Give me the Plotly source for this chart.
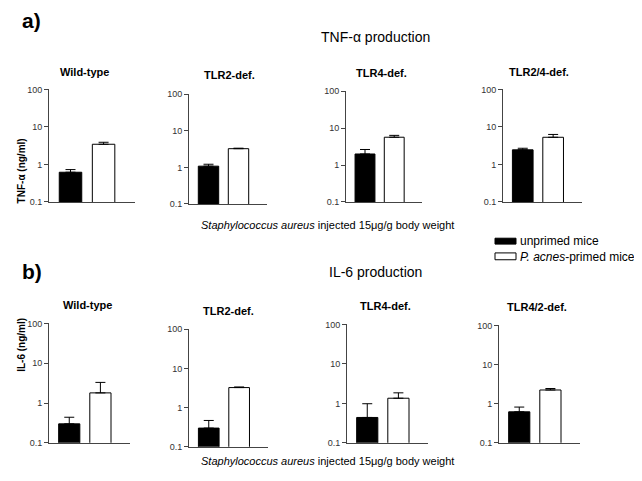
import plotly.graph_objects as go

W, H = 642, 481
OFF = 8  # page body margin: figure is drawn 8px right/down in the browser window
FONT = "Arial, Liberation Sans, sans-serif"

groups = ["unprimed mice", "<i>P. acnes</i>-primed mice"]
tnf_titles = ["Wild-type", "TLR2-def.", "TLR4-def.", "TLR2/4-def."]
il6_titles = ["Wild-type", "TLR2-def.", "TLR4-def.", "TLR4/2-def."]

tnf_unprimed = [0.62, 1.08, 2.0, 2.45]
tnf_unprimed_err = [0.11, 0.14, 0.65, 0.25]
tnf_primed = [3.45, 3.25, 5.7, 5.3]
tnf_primed_err = [0.45, 0.1, 0.7, 1.0]

il6_unprimed = [0.30, 0.30, 0.44, 0.62]
il6_unprimed_err = [0.14, 0.17, 0.54, 0.20]
il6_primed = [1.8, 3.25, 1.35, 2.24]
il6_primed_err = [1.5, 0.12, 0.5, 0.2]

tick_vals = [0.1, 1, 10, 100]
tick_text = ["0.1", "1", "10", "100"]

group_colors = ["black", "white"]


def px(x):
    return (x - OFF) / W


def py(y):
    return 1 - (y - OFF) / H


# window-pixel boxes (x0, x1, ytop, ybottom) for each panel
boxes = [
    (49, 135, 86, 201), (189, 267, 91, 203), (346, 422, 88, 201), (503, 582, 86, 201),
    (49, 130, 325, 447), (189, 268, 331, 451), (347, 428, 326, 447), (499, 580, 327, 447),
]
title_pos = [(84, 68), (229, 71), (382, 69), (539, 68),
             (87, 306), (228, 312), (385, 307), (537, 308)]

fig = go.Figure()

panels = []
for i in range(4):
    panels.append((tnf_titles[i], tnf_unprimed[i], tnf_unprimed_err[i], tnf_primed[i], tnf_primed_err[i]))
for i in range(4):
    panels.append((il6_titles[i], il6_unprimed[i], il6_unprimed_err[i], il6_primed[i], il6_primed_err[i]))

for k, (title, u, ue, p, pe) in enumerate(panels):
    n = k + 1
    xa = "x" if n == 1 else f"x{n}"
    ya = "y" if n == 1 else f"y{n}"
    fig.add_trace(go.Bar(
        x=[0], y=[u], width=0.68, name=groups[0], showlegend=False,
        marker=dict(color=group_colors[0], line=dict(color="black", width=1)),
        error_y=dict(type="data", symmetric=False, array=[ue], arrayminus=[0],
                     color="black", thickness=1, width=5),
        xaxis=xa, yaxis=ya))
    fig.add_trace(go.Bar(
        x=[1], y=[p], width=0.68, name=groups[1], showlegend=False,
        marker=dict(color=group_colors[1], line=dict(color="black", width=1)),
        error_y=dict(type="data", symmetric=False, array=[pe], arrayminus=[0],
                     color="black", thickness=1, width=5),
        xaxis=xa, yaxis=ya))

    x0, x1, yt, yb = boxes[k]
    xkey = "xaxis" if n == 1 else f"xaxis{n}"
    ykey = "yaxis" if n == 1 else f"yaxis{n}"
    fig.update_layout(**{
        xkey: dict(domain=[px(x0), px(x1)], range=[-0.65, 1.95], showticklabels=False,
                   ticks="", showgrid=False, zeroline=False, showline=True,
                   linecolor="#444", linewidth=1, anchor=ya, fixedrange=True),
        ykey: dict(domain=[py(yb), py(yt)], type="log", range=[-1, 2],
                   tickvals=tick_vals, ticktext=tick_text, ticks="outside", ticklen=4,
                   tickcolor="#444", tickwidth=1, showgrid=False, zeroline=False,
                   showline=True, linecolor="#444", linewidth=1, anchor=xa,
                   tickfont=dict(size=9, color="#333", family=FONT)),
    })
    tx, ty = title_pos[k]
    fig.add_annotation(text=f"<b>{title}</b>", xref="paper", yref="paper",
                       x=px(tx), y=py(ty), showarrow=False,
                       font=dict(size=11, color="black", family=FONT), xanchor="center", yanchor="middle")

texts = [
    ("<b>a)</b>", 32, 16, 21),
    ("<b>b)</b>", 32, 272, 21),
    ("TNF-α production", 375, 33, 14),
    ("IL-6 production", 375, 273, 14),
    ("<i>Staphylococcus aureus</i> injected 15μg/g body weight", 327, 225, 11),
    ("<i>Staphylococcus aureus</i> injected 15μg/g body weight", 327, 466, 11),
]
for t, tx, ty, sz in texts:
    fig.add_annotation(text=t, xref="paper", yref="paper", x=px(tx), y=py(ty),
                       showarrow=False, xanchor="center", yanchor="middle",
                       font=dict(size=sz, color="black", family=FONT))

fig.add_annotation(text="<b>TNF-α (ng/ml)</b>", xref="paper", yref="paper", x=px(14), y=py(134),
                   showarrow=False, textangle=-90, font=dict(size=10, color="black", family=FONT))
fig.add_annotation(text="<b>IL-6 (ng/ml)</b>", xref="paper", yref="paper", x=px(14), y=py(377),
                   showarrow=False, textangle=-90, font=dict(size=10, color="black", family=FONT))

# legend (drawn manually: wide swatches like the reference)
legend_rows = [(238, 244, 241), (253, 260, 257)]
for (y0, y1, yc), name, col in zip(legend_rows, groups, group_colors):
    fig.add_shape(type="rect", xref="paper", yref="paper",
                  x0=px(495), x1=px(516), y0=py(y1), y1=py(y0),
                  fillcolor=col, line=dict(color="black", width=1))
    fig.add_annotation(text=name, xref="paper", yref="paper", x=px(518), y=py(yc),
                       showarrow=False, xanchor="left", yanchor="middle",
                       font=dict(size=12, color="black", family=FONT))

fig.update_layout(
    width=W, height=H, margin=dict(l=0, r=0, t=0, b=0),
    paper_bgcolor="white", plot_bgcolor="white", barmode="overlay",
    font=dict(family=FONT, color="black"), showlegend=False,
)

fig.write_html("out.html")
